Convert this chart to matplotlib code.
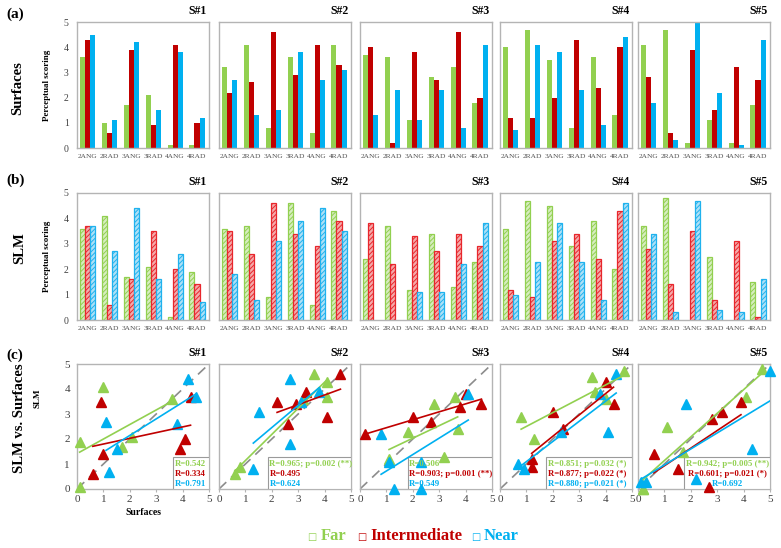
import numpy as np
import matplotlib
matplotlib.use("Agg")
import matplotlib.pyplot as plt
from matplotlib.patches import Rectangle

plt.rcParams['font.family'] = ['Liberation Serif', 'DejaVu Sans']
plt.rcParams['hatch.linewidth'] = 0.7

# data
cats = ['2ANG', '2RAD', '3ANG', '3RAD', '4ANG', '4RAD']
subjects = ['S#1', 'S#2', 'S#3', 'S#4', 'S#5']

# perceptual scoring with surfaces (a)
surf_far = [[3.6, 1.0, 1.7, 2.1, 0.1, 0.1],
            [3.2, 4.1, 0.8, 3.6, 0.6, 4.1],
            [3.7, 3.6, 1.1, 2.8, 3.2, 1.8],
            [4.0, 4.7, 3.5, 0.8, 3.6, 1.3],
            [4.1, 4.7, 0.2, 1.1, 0.2, 1.7]]
surf_mid = [[4.3, 0.6, 3.9, 0.9, 4.1, 1.0],
            [2.2, 2.6, 4.6, 2.9, 4.1, 3.3],
            [4.0, 0.2, 3.8, 2.7, 4.6, 2.0],
            [1.2, 1.2, 2.0, 4.3, 2.4, 4.0],
            [2.8, 0.6, 3.9, 1.5, 3.2, 2.7]]
surf_near = [[4.5, 1.1, 4.2, 1.5, 3.8, 1.2],
             [2.7, 1.3, 1.5, 3.8, 2.7, 3.1],
             [1.3, 2.3, 1.1, 2.3, 0.8, 4.1],
             [0.7, 4.1, 3.8, 2.3, 0.9, 4.4],
             [1.8, 0.3, 5.0, 2.2, 0.1, 4.3]]

# perceptual scoring with SLM (b)
slm_far = [[3.6, 4.1, 1.7, 2.1, 0.1, 1.9],
           [3.6, 3.7, 0.9, 4.6, 0.6, 4.3],
           [2.4, 3.7, 1.2, 3.4, 1.3, 2.3],
           [3.6, 4.7, 4.5, 2.9, 3.9, 2.0],
           [3.7, 4.8, 0.0, 2.5, 0.0, 1.5]]
slm_mid = [[3.7, 0.6, 1.6, 3.5, 2.0, 1.4],
           [3.5, 2.6, 4.6, 3.4, 2.9, 3.9],
           [3.8, 2.2, 3.3, 2.7, 3.4, 2.9],
           [1.2, 0.9, 3.1, 3.4, 2.4, 4.3],
           [2.8, 1.4, 3.5, 0.8, 3.1, 0.1]]
slm_near = [[3.7, 2.7, 4.4, 1.6, 2.6, 0.7],
            [1.8, 0.8, 3.1, 3.9, 4.4, 3.5],
            [0.0, 0.0, 1.1, 1.1, 2.2, 3.8],
            [1.0, 2.3, 3.8, 2.3, 0.8, 4.6],
            [3.4, 0.3, 4.7, 0.4, 0.3, 1.6]]

# correlation texts (c)
r_far = ['R=0.542', 'R=0.965; p=0.002 (**)', 'R=0.506',
         'R=0.851; p=0.032 (*)', 'R=0.942; p=0.005 (**)']
r_mid = ['R=0.334', 'R=0.495', 'R=0.903; p=0.001 (**)',
         'R=0.877; p=0.022 (*)', 'R=0.601; p=0.021 (*)']
r_near = ['R=0.791', 'R=0.624', 'R=0.549',
          'R=0.880; p=0.021 (*)', 'R=0.692']

green, red, blue = '#92d050', '#c00000', '#00b0f0'
red_b, blue_b = '#e8262c', '#1fb2ee'
tints = ['#d6edbf', '#f4aaaa', '#ade0f7']
grey_sp = '#b4b4b4'
tick_c = '#404040'

W, H = 781, 548
fig = plt.figure(figsize=(W / 100, H / 100), dpi=100)
lefts = [77, 219, 360, 500, 638]
pw = 132
rows = [(22, 148), (193, 320), (364, 489)]


def add_ax(l, top, bot):
    return fig.add_axes([l / W, 1 - bot / H, pw / W, (bot - top) / H])


def style(ax, i):
    for s in ax.spines.values():
        s.set_color(grey_sp)
        s.set_linewidth(1.0)
    ax.set_ylim(0, 5)
    ax.set_yticks(range(6))
    if i > 0:
        ax.set_yticklabels([])
    ax.set_title(subjects[i], loc='right', x=0.985, fontsize=8.5,
                 fontweight='bold', pad=6)


x = np.arange(len(cats))
bw = 0.23

# rows (a) and (b): bar charts
for r, (far, mid, near) in enumerate([(surf_far, surf_mid, surf_near),
                                      (slm_far, slm_mid, slm_near)]):
    for i in range(5):
        ax = add_ax(lefts[i], *rows[r])
        vals = [far[i], mid[i], near[i]]
        if r == 0:
            cols = [green, red, blue]
            for k in range(3):
                ax.bar(x + (k - 1) * bw, vals[k], bw, color=cols[k])
        else:
            cols = [green, red_b, blue_b]
            for k in range(3):
                bars = ax.bar(x + (k - 1) * bw, vals[k], bw, facecolor=tints[k],
                              edgecolor=cols[k], hatch='///////', linewidth=0.9)
                for b, v in zip(bars, vals[k]):
                    if v == 0:
                        b.set_visible(False)
        ax.set_xlim(-0.5, 5.55)
        ax.set_xticks(x)
        ax.set_xticklabels(cats, fontsize=5.3, color='#505050')
        ax.tick_params(length=0, pad=4)
        ax.tick_params(axis='y', labelsize=7, labelcolor=tick_c, pad=6)
        style(ax, i)
        if i == 0:
            ax.set_ylabel('Perceptual scoring', fontsize=6.5, fontweight='bold',
                          labelpad=9)

# row (c): scatter SLM vs Surfaces
for i in range(5):
    ax = add_ax(lefts[i], *rows[2])
    ax.plot([0, 5], [0, 5], ls=(0, (6, 4)), color='#8c8c8c', lw=1.2, zorder=2)
    sets = [(surf_far[i], slm_far[i], green), (surf_mid[i], slm_mid[i], red),
            (surf_near[i], slm_near[i], blue)]
    for xs, ys, c in sets:
        xs = np.array(xs)
        ys = np.array(ys)
        ax.plot(xs, ys, '^', ms=7.5, color=c, mec=c, clip_on=False, zorder=5)
        k, b0 = np.polyfit(xs, ys, 1)
        xl = np.array([xs.min(), xs.max()])
        ax.plot(xl, k * xl + b0, color=c, lw=1.2, zorder=6)
    x0 = [0.727, 0.37, 0.36, 0.35, 0.35][i]
    ax.add_patch(Rectangle((x0, 0), 1 - x0, 0.256, transform=ax.transAxes,
                           facecolor='white', edgecolor='#9a9a9a', lw=0.8,
                           zorder=4))
    if i == 4:
        tx, ha = (x0 + 1) / 2, 'center'
    else:
        tx, ha = x0 + 0.012, 'left'
    for txt, ty, c in [(r_far[i], 0.2, green), (r_mid[i], 0.12, red),
                       (r_near[i], 0.04, blue)]:
        ax.text(tx, ty, txt, transform=ax.transAxes, color=c, fontsize=6.3,
                fontweight='bold', ha=ha, va='center', zorder=7)
    ax.set_xlim(0, 5)
    ax.set_xticks(range(6))
    ax.tick_params(axis='x', labelsize=8, labelcolor=tick_c, length=2.5,
                   color=grey_sp, pad=2)
    ax.tick_params(axis='y', labelsize=8, labelcolor=tick_c, length=0, pad=5)
    style(ax, i)
    if i == 0:
        ax.set_ylabel('SLM', fontsize=6.5, fontweight='bold', labelpad=12)
        ax.yaxis.set_label_coords(-0.27, 0.73)
        ax.set_xlabel('Surfaces', fontsize=7, fontweight='bold', labelpad=3)

# row labels
def ft(px, py, s, **kw):
    fig.text(px / W, 1 - py / H, s, **kw)

ft(6, 14, '(a)', fontsize=11, fontweight='bold', va='center')
ft(6, 180, '(b)', fontsize=11, fontweight='bold', va='center')
ft(6, 355, '(c)', fontsize=11, fontweight='bold', va='center')
ft(18, 88, 'Surfaces', fontsize=10.5, fontweight='bold', rotation=90,
   ha='center', va='center')
ft(20, 248, 'SLM', fontsize=10.5, fontweight='bold', rotation=90,
   ha='center', va='center')
ft(20, 418, 'SLM vs. Surfaces', fontsize=10.5, fontweight='bold', rotation=90,
   ha='center', va='center')

# legend
for sx, tx_, label, c in [(307, 321, 'Far', green),
                          (357, 370, 'Intermediate', red),
                          (471, 484, 'Near', blue)]:
    ft(sx, 537, '\u25a1', fontsize=7, color=c, family='DejaVu Sans',
       va='center')
    ft(tx_, 536, label, fontsize=12, fontweight='bold', color=c, va='center')

fig.savefig('out.png', dpi=100)
